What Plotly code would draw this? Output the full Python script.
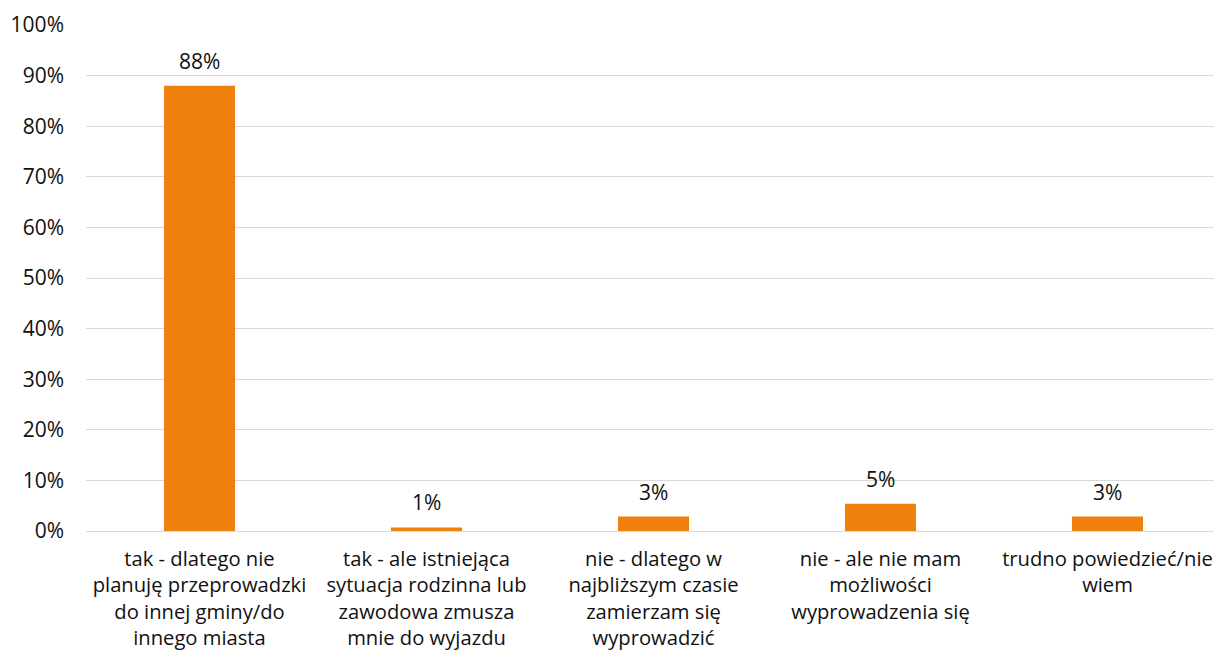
import plotly.graph_objects as go

categories = [
    "tak - dlatego nie<br>planuję przeprowadzki<br>do innej gminy/do<br>innego miasta",
    "tak - ale istniejąca<br>sytuacja rodzinna lub<br>zawodowa zmusza<br>mnie do wyjazdu",
    "nie - dlatego w<br>najbliższym czasie<br>zamierzam się<br>wyprowadzić",
    "nie - ale nie mam<br>możliwości<br>wyprowadzenia się",
    "trudno powiedzieć/nie<br>wiem",
]
values = [0.880, 0.007, 0.0285, 0.054, 0.0285]
labels = ["88%", "1%", "3%", "5%", "3%"]

font_family = "'Open Sans', 'Noto Sans', sans-serif"
text_color = "#111111"
bar_color = "#F0800C"

fig = go.Figure()
fig.add_trace(go.Bar(
    x=list(range(len(categories))),
    y=values,
    marker=dict(color=bar_color, line=dict(width=0)),
    showlegend=False,
    hoverinfo="skip",
))

# value labels above bars
for i, (v, lab) in enumerate(zip(values, labels)):
    fig.add_annotation(
        x=i, y=v, text=lab, showarrow=False,
        yanchor="bottom", yshift=9,
        font=dict(family=font_family, size=21, color=text_color),
    )

# page body has an 8px margin, so the figure is shifted by 8px
fig.update_layout(
    width=1214, height=652,
    margin=dict(l=78, r=1, t=17, b=129),
    paper_bgcolor="white",
    plot_bgcolor="white",
    bargap=0.687,
    font=dict(family=font_family, size=21, color=text_color),
)
fig.update_xaxes(
    automargin=False,
    tickmode="array",
    tickvals=list(range(len(categories))),
    ticktext=categories,
    range=[-0.5, len(categories) - 0.5],
    showgrid=False,
    showline=False,
    zeroline=False,
    ticks="",
    ticklabelstandoff=14,
    ticklabeloverflow="allow",
    tickangle=0,
    tickfont=dict(family=font_family, size=20.2, color=text_color),
)
fig.update_yaxes(
    automargin=False,
    range=[0, 1],
    dtick=0.1,
    tickformat=".0%",
    showgrid=True,
    gridcolor="#D9D9D9",
    gridwidth=1.3,
    zeroline=True,
    zerolinecolor="#D9D9D9",
    zerolinewidth=1.3,
    showline=False,
    ticks="",
    ticklabelstandoff=21,
    tickfont=dict(family=font_family, size=21, color=text_color),
)

fig.write_html("out.html")
